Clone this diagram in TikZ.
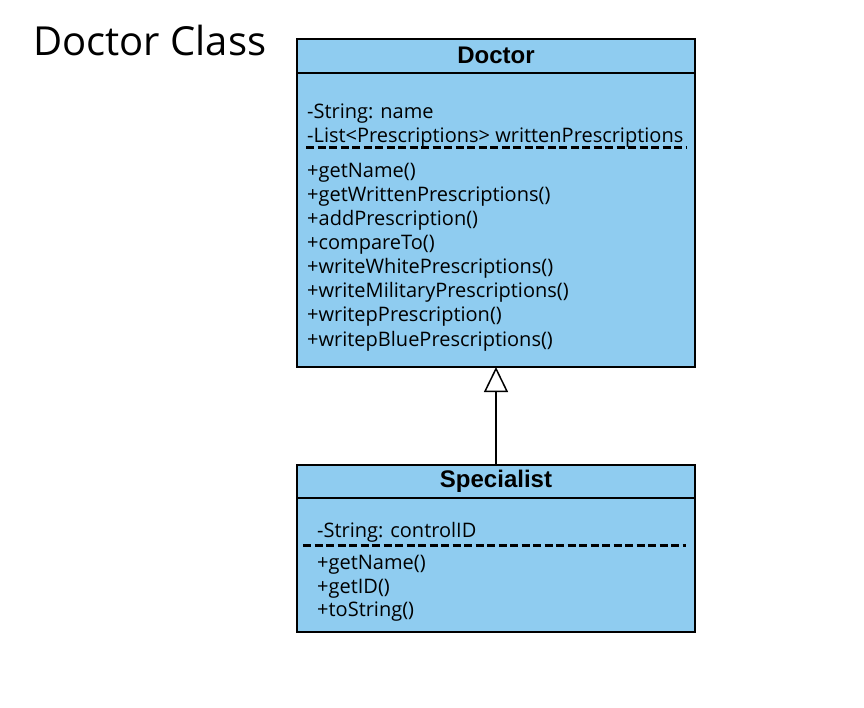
\documentclass[tikz,border=0pt]{standalone}
\usepackage{fontspec}
\setmainfont{Open Sans}
\newfontfamily\hdfont{Liberation Sans}
\usetikzlibrary{arrows.meta}
\definecolor{umlblue}{RGB}{143,204,240}
\begin{document}
\begin{tikzpicture}[x=1pt,y=-1pt,
  classbox/.style={draw=black,fill=umlblue,line width=2pt},
  divider/.style={line width=1.5pt},
  dashdiv/.style={line width=3pt,dash pattern=on 8pt off 3.5pt},
  member/.style={anchor=base west,inner sep=0pt,font=\fontsize{20}{24}\selectfont},
  classtitle/.style={anchor=center,inner sep=0pt,font=\hdfont\bfseries\fontsize{24}{26}\selectfont},
  inherit/.style={line width=2pt,-{Triangle[open,width=24pt,length=25pt,line width=1.5pt]}}
]
\useasboundingbox (0,0) rectangle (864,708);
\node[anchor=base west,inner sep=0pt,font=\fontsize{40}{44}\selectfont] (title) at (33,56) {Doctor Class};
% Doctor
\draw[classbox] (297,39) rectangle (695,367);
\coordinate (dbot) at (496,367);
\draw[divider] (297,73) -- (695,73);
\node[classtitle] (dname) at (496,55) {Doctor};
\node[member] (da1) at (307,119) {-String: name};
\node[member] (da2) at (307,143) {-List<Prescriptions> writtenPrescriptions};
\draw[dashdiv] (306,148) -- (686,148);
\node[member] (dm1) at (307,178) {+getName()};
\node[member] (dm2) at (307,202) {+getWrittenPrescriptions()};
\node[member] (dm3) at (307,226) {+addPrescription()};
\node[member] (dm4) at (307,250) {+compareTo()};
\node[member] (dm5) at (307,274) {+writeWhitePrescriptions()};
\node[member] (dm6) at (307,298) {+writeMilitaryPrescriptions()};
\node[member] (dm7) at (307,322) {+writepPrescription()};
\node[member] (dm8) at (307,346) {+writepBluePrescriptions()};
% Specialist
\draw[classbox] (297,465) rectangle (695,632);
\coordinate (stop) at (496,465);
\draw[divider] (297,498) -- (695,498);
\node[classtitle] (sname) at (496,481) {Specialist};
\node[member] (sa1) at (317,537) {-String: controlID};
\draw[dashdiv] (303,545) -- (686,545);
\node[member] (sm1) at (317,569) {+getName()};
\node[member] (sm2) at (317,593) {+getID()};
\node[member] (sm3) at (317,616) {+toString()};
\draw[inherit] (stop) -- (dbot);
\end{tikzpicture}
\end{document}
